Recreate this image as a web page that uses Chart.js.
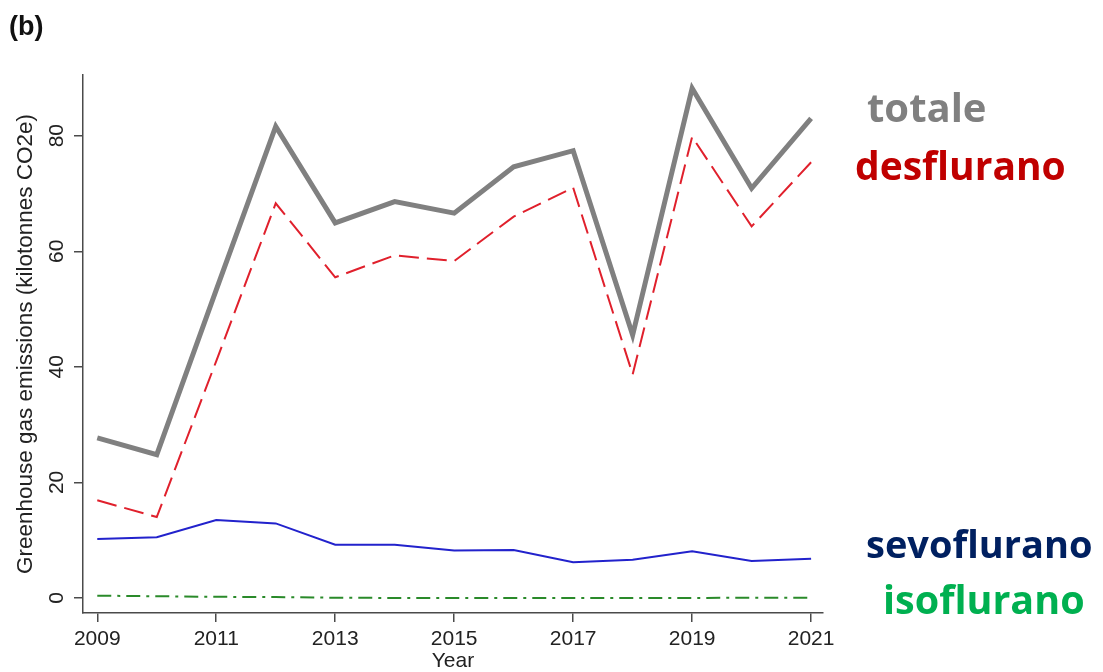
<!DOCTYPE html>
<html>
<head>
<meta charset="utf-8">
<script src="https://cdn.jsdelivr.net/npm/chart.js@4/dist/chart.umd.min.js"></script>
<style>
  html, body { margin: 0; padding: 0; background: #fff; }
  #wrap { position: relative; width: 1103px; height: 672px; }
</style>
</head>
<body>
<div id="wrap"><canvas id="emissionChart" width="1103" height="672"></canvas></div>
<script>
// ---- data ----
const years       = [2009, 2010, 2011, 2012, 2013, 2014, 2015, 2016, 2017, 2018, 2019, 2020, 2021];
const totale      = [27.7, 24.8, 53.3, 81.6, 64.9, 68.6, 66.6, 74.6, 77.4, 45.5, 88.2, 70.9, 83.0];
const desflurano  = [16.9, 14.0, 41.0, 68.3, 55.5, 59.3, 58.3, 66.0, 71.0, 38.7, 79.8, 64.3, 75.4];
const sevoflurano = [10.2, 10.5, 13.5, 12.9, 9.2, 9.2, 8.2, 8.3, 6.2, 6.6, 8.1, 6.4, 6.8];
const isoflurano  = [0.4, 0.3, 0.2, 0.15, 0.05, 0.0, 0.0, 0.0, 0.0, 0.0, 0.0, 0.05, 0.05];
const xTicks = [2009, 2011, 2013, 2015, 2017, 2019, 2021];
const yTicks = [0, 20, 40, 60, 80];

const toPoints = vals => vals.map((v, i) => ({ x: years[i], y: v }));

const axisColor = '#4a4a4a';
const tickFont  = { family: "'Liberation Sans', Arial, sans-serif", size: 21 };

/* ============================================================
   Side labels (series names written next to the plot)
   ============================================================ */
const sideLabels = [
  { text: '(b)',         x: 9,   y: 35,  color: '#111',    font: "bold 27px 'Liberation Sans', Arial, sans-serif" },
  { text: 'totale',      x: 867, y: 122, color: '#808080', font: "bold 40px 'Open Sans', sans-serif" },
  { text: 'desflurano',  x: 855, y: 180, color: '#c00000', font: "bold 39px 'Open Sans', sans-serif" },
  { text: 'sevoflurano', x: 866, y: 558, color: '#002060', font: "bold 38px 'Open Sans', sans-serif" },
  { text: 'isoflurano',  x: 883, y: 614, color: '#00b050', font: "bold 39.5px 'Open Sans', sans-serif" },
];

const sideLabelPlugin = {
  id: 'sideLabels',
  afterDraw(chart) {
    const ctx = chart.ctx;
    ctx.save();
    ctx.textBaseline = 'alphabetic';
    ctx.textAlign = 'left';
    sideLabels.forEach(l => {
      ctx.font = l.font;
      ctx.fillStyle = l.color;
      ctx.fillText(l.text, l.x, l.y);
    });
    ctx.restore();
  }
};

new Chart(document.getElementById('emissionChart'), {
  type: 'line',
  data: {
    datasets: [
      {
        label: 'isoflurano',
        data: toPoints(isoflurano),
        borderColor: '#2a8a2a',
        borderWidth: 2,
        borderDash: [14, 6, 3, 6],
      },
      {
        label: 'sevoflurano',
        data: toPoints(sevoflurano),
        borderColor: '#2222cc',
        borderWidth: 2,
      },
      {
        label: 'desflurano',
        data: toPoints(desflurano),
        borderColor: '#e0202c',
        borderWidth: 2,
        borderDash: [20, 8],
      },
      {
        label: 'totale',
        data: toPoints(totale),
        borderColor: '#808080',
        borderWidth: 5,
      },
    ]
  },
  options: {
    responsive: false,
    animation: false,
    events: [],
    layout: { padding: { top: 75, right: 280, left: 0, bottom: 0 } },
    elements: {
      point: { radius: 0 },
      line: { tension: 0, fill: false }
    },
    plugins: {
      legend: { display: false },
      tooltip: { enabled: false }
    },
    scales: {
      x: {
        type: 'linear',
        min: 2008.76,
        max: 2021.2,
        afterBuildTicks: scale => { scale.ticks = xTicks.map(v => ({ value: v })); },
        afterFit: scale => { scale.height = 59; },
        grid: { display: true, drawOnChartArea: false, drawTicks: true, tickLength: 9, color: axisColor, lineWidth: 1.5 },
        border: { display: true, color: axisColor, width: 1.5 },
        ticks: { font: tickFont, color: '#222', padding: 5, maxRotation: 0, callback: v => String(v) },
        title: {
          display: true, text: 'Year', color: '#222',
          font: { family: "'Liberation Sans', Arial, sans-serif", size: 21, lineHeight: 1.0 },
          padding: { top: 0, bottom: 0 }
        }
      },
      y: {
        min: -2.6,
        max: 90.5,
        afterBuildTicks: scale => { scale.ticks = yTicks.map(v => ({ value: v })); },
        afterFit: scale => { scale.width = 83; },
        grid: { display: true, drawOnChartArea: false, drawTicks: true, tickLength: 9, color: axisColor, lineWidth: 1.5 },
        border: { display: true, color: axisColor, width: 1.5 },
        ticks: { font: tickFont, color: '#222', minRotation: 90, maxRotation: 90, crossAlign: 'center', padding: 5 },
        title: {
          display: true, text: 'Greenhouse gas emissions (kilotonnes CO2e)', color: '#222',
          font: { family: "'Liberation Sans', Arial, sans-serif", size: 22.5 },
          padding: { top: 12, bottom: 0 }
        }
      }
    }
  },
  plugins: [sideLabelPlugin]
});
</script>
</body>
</html>
